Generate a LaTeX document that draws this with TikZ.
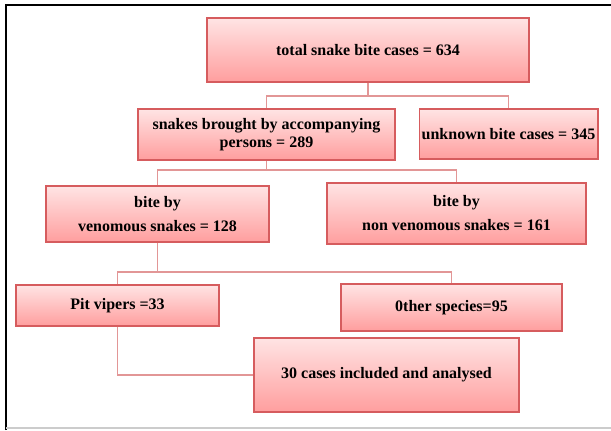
\documentclass[tikz,border=0pt]{standalone}
\usepackage{fontspec}
\setmainfont{Liberation Serif}
\usepackage{tikz}
\usetikzlibrary{positioning}
\usepackage{xcolor}

\definecolor{boxtop}{RGB}{255,228,228}
\definecolor{boxbot}{RGB}{255,158,158}
\definecolor{boxline}{RGB}{214,92,94}
\definecolor{linkline}{RGB}{226,150,150}

\tikzset{
    box/.style={draw=boxline, line width=0.8pt, top color=boxtop, bottom color=boxbot,
        inner sep=2pt, align=center, font=\bfseries\fontsize{12}{14}\selectfont},
    link/.style={draw=linkline, line width=1pt}
}

\begin{document}
\begin{tikzpicture}[x=0.75pt,y=0.75pt,yscale=-1,xscale=1]
        \useasboundingbox (0,0) rectangle (611,430);
        %frame
        \draw [line width=1.6pt] (6,430) -- (6,5) -- (611,5);
        \draw [color=black!20, line width=0.9pt] (6,428) -- (611,428);
        % Boxes
        \node [box, minimum width=241.5pt, minimum height=48pt] (total) at (368,50) {total snake bite cases = 634};
        \node [box, minimum width=192.75pt, minimum height=38.25pt] (brought) at (266.5,134.5) {snakes brought by accompanying\\persons = 289};
        \node [box, minimum width=132.75pt, minimum height=37.5pt] (unknown) at (508.5,134) {unknown bite cases = 345};
        \node [box, minimum width=167.25pt, minimum height=42pt] (venom) at (157.5,214) {bite by\\[4pt]venomous snakes = 128};
        \node [box, minimum width=194.25pt, minimum height=45.75pt] (nonvenom) at (456.5,213.5) {bite by\\[4pt]non venomous snakes = 161};
        \node [box, minimum width=152.25pt, minimum height=30.75pt] (pit) at (117.5,305.5) {Pit vipers =33};
        \node [box, minimum width=165.75pt, minimum height=35.25pt] (other) at (451.5,307.5) {0ther species=95};
        \node [box, minimum width=198.75pt, minimum height=55.5pt] (included) at (386.5,375) {30 cases included and analysed};
        % Junctions
        \coordinate (j1) at (368,96);
        \coordinate (j2) at (266.5,170);
        \coordinate (j3) at (157.5,272);
        % Links
        \draw [link] (total.south) -- (j1) -| (brought.north);
        \draw [link] (j1) -| (unknown.north);
        \draw [link] (brought.south) -- (j2) -| (venom.north);
        \draw [link] (j2) -| (nonvenom.north);
        \draw [link] (venom.south) -- (j3) -| (pit.north);
        \draw [link] (j3) -| (other.north);
        \draw [link] (pit.south) |- (included.west);
    \end{tikzpicture}
\end{document}
